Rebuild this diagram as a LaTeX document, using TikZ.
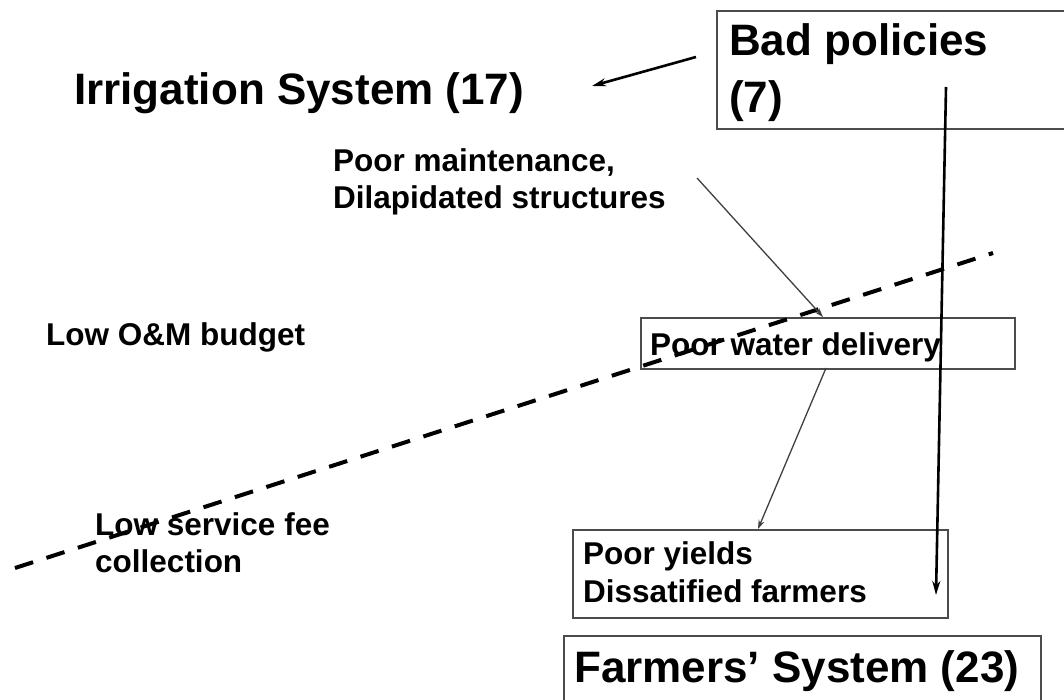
\documentclass[tikz,border=0pt]{standalone}
\usepackage{fontspec}
\setmainfont{Liberation Sans}
\usetikzlibrary{arrows.meta}
\begin{document}
\begin{tikzpicture}[x=1pt,y=-1pt,
  big/.style={inner sep=0pt,anchor=base west,font=\fontsize{44}{52}\selectfont\bfseries},
  small/.style={inner sep=0pt,anchor=base west,font=\fontsize{31.5}{37}\selectfont\bfseries},
  framebox/.style={draw=black!70,line width=1.6pt,inner sep=0pt,anchor=north west},
  thickarrow/.style={line width=2.6pt,-{Stealth[length=14pt,width=8pt]}},
  thinarrow/.style={draw=black!75,line width=1.3pt,-{Stealth[length=9pt,width=6pt]}},
  divider/.style={line width=4pt,dash pattern=on 19pt off 14pt}]
\useasboundingbox (0,0) rectangle (1064,700);
\fill[white] (0,0) rectangle (1064,700);
% boxes
\node[framebox,minimum width=360pt,minimum height=118pt] (badbox) at (716,10) {};
\node[framebox,minimum width=374pt,minimum height=51pt] (pwdbox) at (640,317) {};
\node[framebox,minimum width=375pt,minimum height=88pt] (pybox) at (572,529) {};
\node[framebox,minimum width=477pt,minimum height=70pt] (fsbox) at (563,635) {};
% texts
\node[big] (irr) at (74,105) {Irrigation System (17)};
\node[big] (bad1) at (729,56) {Bad policies};
\node[big] (bad2) at (729,113) {(7)};
\node[small] (pm1) at (333,172) {Poor maintenance,};
\node[small] (pm2) at (333,209) {Dilapidated structures};
\node[small] (om) at (46,345) {Low O\&M budget};
\node[small] (pwd) at (650,355) {Poor water delivery};
\node[small] (ls1) at (95,535) {Low service fee};
\node[small] (ls2) at (95,572) {collection};
\node[small] (py1) at (583,564) {Poor yields};
\node[small] (py2) at (583,602) {Dissatified farmers};
\node[big] (fs) at (574,682) {Farmers’ System (23)};
% connector ends
\coordinate (a1s) at (696,57);
\coordinate (a1e) at (592,86);
\coordinate (vs) at (946,87);
\coordinate (ve) at (936,595);
\coordinate (t1s) at (697,178);
\coordinate (t1e) at (823,317);
\coordinate (t2s) at (826,368);
\coordinate (t2e) at (758,529);
\coordinate (dl) at (15,568);
\coordinate (dr) at (993,253);
% lines
\draw[divider] (dl) -- (dr);
\draw[thinarrow] (t1s) -- (t1e);
\draw[thinarrow] (t2s) -- (t2e);
\draw[thickarrow] (a1s) -- (a1e);
\draw[thickarrow] (vs) -- (ve);
\end{tikzpicture}
\end{document}
